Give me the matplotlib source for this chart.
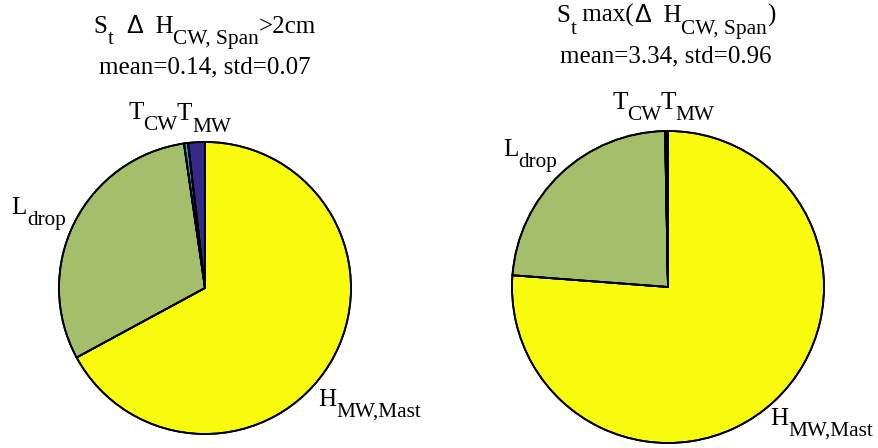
import numpy as np
import matplotlib
matplotlib.use('Agg')
import matplotlib.pyplot as plt

plt.rcParams['font.family'] = 'Liberation Serif'

# slice shares (percent), order: H_MW,Mast, L_drop, T_CW, T_MW
labels = [[('H', False), ('MW,Mast', True)],
          [('L', False), ('drop', True)],
          [('T', False), ('CW', True)],
          [('T', False), ('MW', True)]]
left_vals = [67.1, 30.6, 0.45, 1.85]
right_vals = [76.2, 23.5, 0.05, 0.25]
colors = ['#F9FB0E', '#A5BE6B', '#14A0D8', '#352A87']

# (text, subscript, sans)
left_title = [('S', False), ('t', True), ('\u2002', False), ('\u0394', False, True),
              ('\u2002H', False), ('CW, Span', True), ('>2cm', False)]
left_stats = 'mean=0.14, std=0.07'
right_title = [('S', False), ('t', True), (' max(', False), ('\u0394', False, True),
               ('\u2002H', False), ('CW, Span', True), (')', False)]
right_stats = 'mean=3.34, std=0.96'

# label nudges in points (dx, dy)
left_nudge = [(10, -20), (-7, -3), (-21, -3), (6.5, -5)]
right_nudge = [(19, 0), (-6.5, -3), (-20, -6.5), (15, -6.5)]

SIZE = 18
SUB = 0.85
DROP = 8.0

fig = plt.figure(figsize=(8.79, 4.48), dpi=100)
ax1 = fig.add_axes([0.0671, 0.0313, 0.3322, 0.6518])
ax2 = fig.add_axes([0.5825, 0.0112, 0.3549, 0.6964])

groups = []


def rich_text(ax, xy, parts, xycoords='data', offset=(0, 0)):
    # text with MATLAB-like subscripts, built piece by piece
    pieces = []
    prev, prev_sub = None, False
    for p in parts:
        s, sub = p[0], p[1]
        fam = ['Liberation Sans'] if len(p) > 2 and p[2] else ['Liberation Serif', 'DejaVu Serif']
        dy = 0
        if sub and not prev_sub:
            dy = -DROP
        elif prev_sub and not sub:
            dy = DROP
        if prev is None:
            t = ax.annotate(s, xy=xy, xycoords=xycoords, xytext=offset,
                            textcoords='offset points', ha='left', va='bottom',
                            fontsize=SIZE * (SUB if sub else 1), family=fam,
                            annotation_clip=False)
            first = t
        else:
            t = ax.annotate(s, xy=(1, 0), xycoords=prev, xytext=(0, dy),
                            textcoords='offset points', ha='left', va='bottom',
                            fontsize=SIZE * (SUB if sub else 1), family=fam,
                            annotation_clip=False)
        pieces.append(t)
        prev, prev_sub = t, sub
    groups.append((first, pieces, offset))


def draw_pie(ax, vals, nudge):
    wedges, _ = ax.pie(vals, colors=colors, startangle=90, counterclock=False,
                       wedgeprops=dict(edgecolor='black', linewidth=1.3))
    for w in wedges:
        w.set_clip_on(False)
        w.set_zorder(1)
        # faint radial seams like the original renderer
        for a in np.arange(w.theta2, w.theta1, 3.6):
            ang = np.deg2rad(a)
            ax.plot([0, np.cos(ang)], [0, np.sin(ang)], color='white', lw=0.5,
                    alpha=0.35, zorder=1.5, clip_on=False)
    # redraw edges on top of the seams
    ax.pie(vals, colors=['none'] * len(vals), startangle=90, counterclock=False,
           wedgeprops=dict(edgecolor='black', linewidth=1.3, zorder=2, clip_on=False))
    ax.set_xlim(-1, 1)
    ax.set_ylim(-1, 1)
    for w, lab, off in zip(wedges, labels, nudge):
        ang = np.deg2rad((w.theta1 + w.theta2) / 2)
        rich_text(ax, (1.2 * np.cos(ang), 1.2 * np.sin(ang)), lab, offset=off)


draw_pie(ax1, left_vals, left_nudge)
draw_pie(ax2, right_vals, right_nudge)

rich_text(ax1, (205 / 879, 1 - 31.5 / 448), left_title, xycoords='figure fraction')
rich_text(ax2, (666 / 879, 1 - 21 / 448), right_title, xycoords='figure fraction')
fig.text(205 / 879, 1 - 73 / 448, left_stats, ha='center', va='baseline', fontsize=SIZE)
fig.text(666 / 879, 1 - 62 / 448, right_stats, ha='center', va='baseline', fontsize=SIZE)

# center every composed text on its anchor
fig.canvas.draw()
r = fig.canvas.get_renderer()
pt = 72.0 / fig.dpi
for first, pieces, (ox, oy) in groups:
    ext = [p.get_window_extent(r) for p in pieces]
    x0 = min(e.x0 for e in ext)
    x1 = max(e.x1 for e in ext)
    y0 = min(e.y0 for e in ext)
    y1 = max(e.y1 for e in ext)
    fy = ext[0].y0
    first.xyann = (ox - (x1 - x0) / 2 * pt, oy - ((y0 + y1) / 2 - fy) * pt)

fig.savefig('out.png', dpi=100)
